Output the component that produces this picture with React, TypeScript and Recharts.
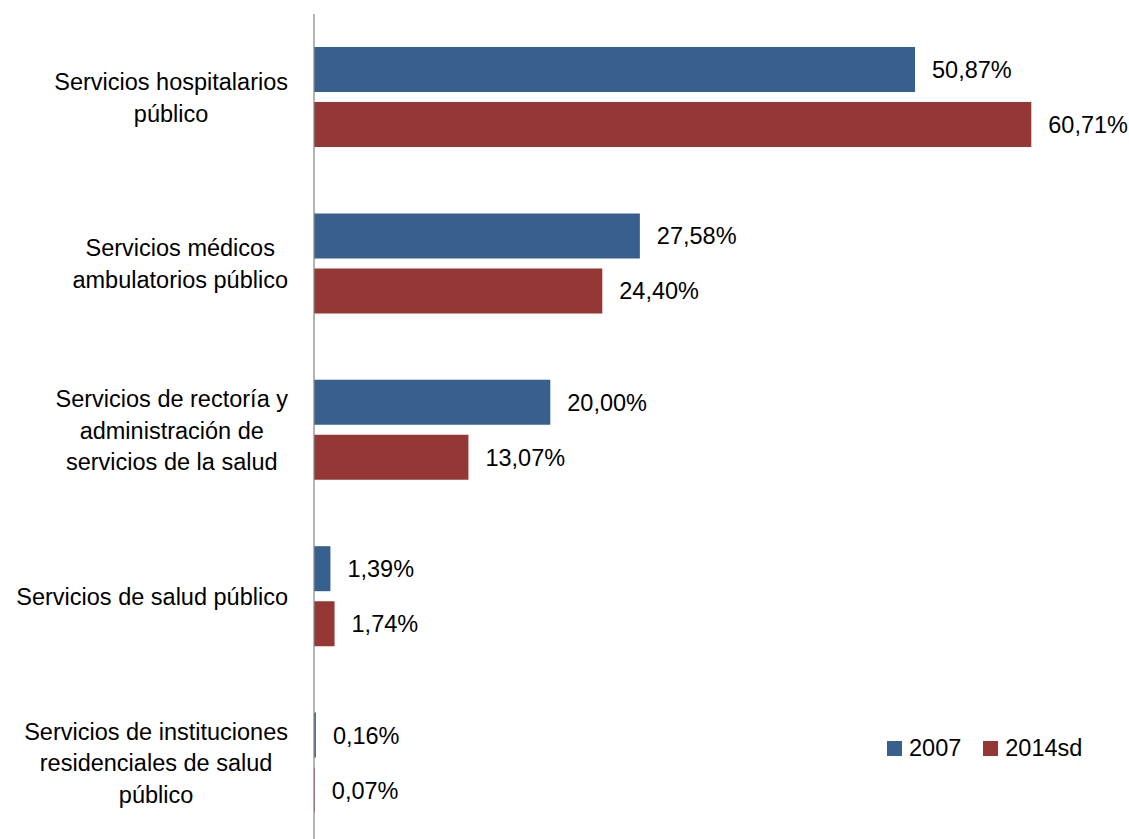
import React from 'react';
import { BarChart, Bar, XAxis, YAxis, LabelList, Legend } from 'recharts';

const categories = [
  'Servicios hospitalarios público',
  'Servicios médicos ambulatorios público',
  'Servicios de rectoría y administración de servicios de la salud',
  'Servicios de salud público',
  'Servicios de instituciones residenciales de salud público',
];
const tickLines = [
  ['Servicios hospitalarios', 'público'],
  ['Servicios médicos', 'ambulatorios público'],
  ['Servicios de rectoría y', 'administración de', 'servicios de la salud'],
  ['Servicios de salud público'],
  ['Servicios de instituciones', 'residenciales de salud', 'público'],
];
const values2007 = [50.87, 27.58, 20.0, 1.39, 0.16];
const values2014 = [60.71, 24.4, 13.07, 1.74, 0.07];
const seriesNames = ['2007', '2014sd'];
const seriesColors = ['#37608F', '#953735'];

const data = categories.map((name, i) => ({
  name,
  v2007: values2007[i],
  v2014: values2014[i],
}));

const FONT = "'Liberation Sans', Arial, sans-serif";
const FS = 23.5;

let ctx: CanvasRenderingContext2D | null = null;
function measure(t: string): number {
  if (!ctx) {
    const c = document.createElement('canvas');
    ctx = c.getContext('2d');
  }
  if (!ctx) return t.length * FS * 0.5;
  ctx.font = `${FS}px ${FONT}`;
  return ctx.measureText(t).width;
}

const fmt = (v: number) => v.toFixed(2).replace('.', ',') + '%';

function CategoryTick(props: any) {
  const { y, payload } = props;
  const idx = categories.indexOf(payload.value);
  const lines = idx >= 0 ? tickLines[idx] : [String(payload.value)];
  const maxW = Math.max(...lines.map(measure));
  const cx = 288 - maxW / 2;
  const lh = 31.7;
  const n = lines.length;
  return (
    <g>
      {lines.map((l, i) => (
        <text
          key={i}
          x={cx}
          y={y + 8.5 + (i - (n - 1) / 2) * lh}
          textAnchor="middle"
          fontFamily={FONT}
          fontSize={FS}
          fill="#000"
        >
          {l}
        </text>
      ))}
    </g>
  );
}

function ValueLabel(props: any) {
  const { x, y, width, height, value } = props;
  return (
    <text
      x={x + width + 17}
      y={y + height / 2 + 8.5}
      fontFamily={FONT}
      fontSize={FS}
      fill="#000"
      textAnchor="start"
    >
      {fmt(value)}
    </text>
  );
}

function LegendContent() {
  return (
    <div style={{ display: 'flex', alignItems: 'center', fontFamily: FONT, fontSize: FS, color: '#000', whiteSpace: 'nowrap' }}>
      {seriesNames.map((s, i) => (
        <div key={s} style={{ display: 'flex', alignItems: 'center', marginRight: i === 0 ? 22 : 0 }}>
          <span style={{ display: 'inline-block', width: 15, height: 15, background: seriesColors[i], marginRight: 7 }} />
          <span style={{ lineHeight: '26px' }}>{s}</span>
        </div>
      ))}
    </div>
  );
}

export default function App() {
  return (
    <div style={{ position: 'absolute', left: 0, top: 0, width: 1129, height: 839, overflow: 'hidden', background: '#fff' }}>
      <BarChart
        width={1129}
        height={850}
        data={data}
        layout="vertical"
        margin={{ top: 14, right: 47, bottom: 4, left: 0 }}
        barSize={45}
        barGap={10}
      >
        <XAxis type="number" domain={[0, 65]} hide />
        <YAxis
          type="category"
          dataKey="name"
          width={314}
          axisLine={{ stroke: '#8C8C8C', strokeWidth: 1.3 }}
          tickLine={false}
          tick={<CategoryTick />}
          interval={0}
        />
        <Legend
          layout="horizontal"
          verticalAlign="middle"
          align="center"
          content={<LegendContent />}
          wrapperStyle={{ position: 'absolute', left: 887, top: 735, width: 'auto' }}
        />
        <Bar dataKey="v2007" name={seriesNames[0]} fill={seriesColors[0]} isAnimationActive={false}>
          <LabelList dataKey="v2007" content={<ValueLabel />} />
        </Bar>
        <Bar dataKey="v2014" name={seriesNames[1]} fill={seriesColors[1]} isAnimationActive={false}>
          <LabelList dataKey="v2014" content={<ValueLabel />} />
        </Bar>
      </BarChart>
    </div>
  );
}
